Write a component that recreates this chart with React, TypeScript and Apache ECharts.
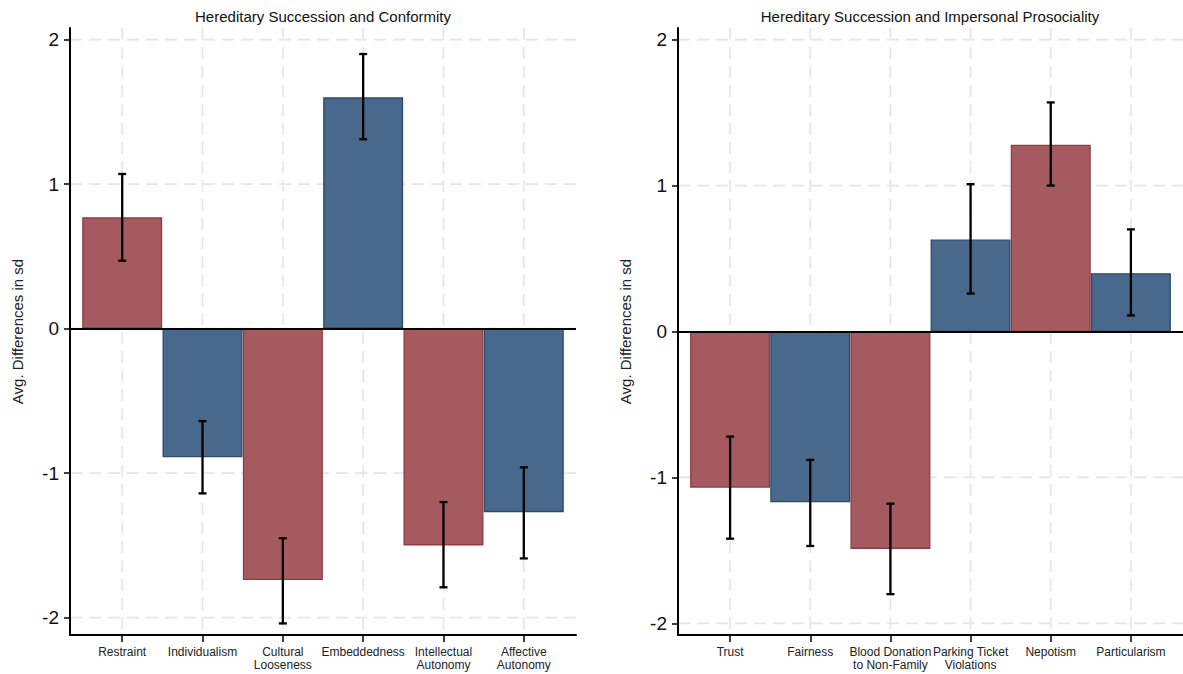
import React, { useEffect, useRef } from "react";
import * as echarts from "echarts";

const conformityTitle = "Hereditary Succession and Conformity";
const conformityCats = ["Restraint", "Individualism", "Cultural\nLooseness", "Embeddedness", "Intellectual\nAutonomy", "Affective\nAutonomy"];
const conformityMeans = [0.77, -0.89, -1.74, 1.6, -1.5, -1.27];
const conformityLower = [0.47, -1.14, -2.04, 1.31, -1.79, -1.59];
const conformityUpper = [1.07, -0.64, -1.45, 1.9, -1.2, -0.96];

const prosocTitle = "Hereditary Succession and Impersonal Prosociality";
const prosocCats = ["Trust", "Fairness", "Blood Donation\nto Non-Family", "Parking Ticket\nViolations", "Nepotism", "Particularism"];
const prosocMeans = [-1.07, -1.17, -1.49, 0.63, 1.28, 0.4];
const prosocLower = [-1.42, -1.47, -1.8, 0.26, 1.0, 0.11];
const prosocUpper = [-0.72, -0.88, -1.18, 1.01, 1.57, 0.7];

const yTicks = [-2, -1, 0, 1, 2];
const yAxisTitle = "Avg. Differences in sd";

const RED = "#a55a60";
const RED_B = "#8e3c46";
const BLUE = "#48698b";
const BLUE_B = "#2c4b6c";
const barFills = [RED, BLUE, RED, BLUE, RED, BLUE];
const barBorders = [RED_B, BLUE_B, RED_B, BLUE_B, RED_B, BLUE_B];

const FONT = "'Liberation Sans', Arial, sans-serif";
const GRID_COLOR = "#e6e6e6";

function buildPanel(g: number, cats: string[], means: number[], lower: number[], upper: number[], yMin: number, yMax: number) {
  const positions = cats.map((_, i) => i + 1);
  const xAxis = {
    type: "value",
    gridIndex: g,
    min: 0.35,
    max: 6.65,
    axisLine: { show: true, onZero: false, lineStyle: { color: "#000", width: 2 } },
    axisTick: { show: true, customValues: positions, length: 7, lineStyle: { color: "#000", width: 1.5 } },
    axisLabel: {
      customValues: positions,
      formatter: (v: number) => cats[Math.round(v) - 1] ?? "",
      fontSize: 12,
      color: "#222",
      margin: 10,
      lineHeight: 13,
      fontFamily: FONT,
    },
    splitLine: { show: false },
  };
  const yAxis = {
    type: "value",
    gridIndex: g,
    min: yMin,
    max: yMax,
    axisLine: { show: true, onZero: false, lineStyle: { color: "#000", width: 2 } },
    axisTick: { show: true, customValues: yTicks, length: 6, lineStyle: { color: "#000", width: 1.5 } },
    axisLabel: { customValues: yTicks, fontSize: 19, color: "#111", margin: 11, fontFamily: FONT },
    splitLine: { show: false },
    name: yAxisTitle,
    nameLocation: "middle",
    nameRotate: 90,
    nameGap: 45,
    nameTextStyle: { fontSize: 15, color: "#222", fontFamily: FONT },
  };
  const series = [
    {
      type: "custom",
      xAxisIndex: g,
      yAxisIndex: g,
      z: 0,
      silent: true,
      data: yTicks.map((v) => [v]),
      encode: { y: 0 },
      renderItem: (params: any, api: any) => {
        const cs = params.coordSys;
        const y = api.coord([1, api.value(0)])[1];
        return {
          type: "line",
          shape: { x1: cs.x, y1: y, x2: cs.x + cs.width, y2: y },
          style: { stroke: GRID_COLOR, lineWidth: 1.7, lineDash: [12, 7] },
        };
      },
    },
    {
      type: "custom",
      xAxisIndex: g,
      yAxisIndex: g,
      z: 0,
      silent: true,
      data: positions.map((p) => [p]),
      encode: { x: 0 },
      renderItem: (params: any, api: any) => {
        const cs = params.coordSys;
        const x = api.coord([api.value(0), 0])[0];
        return {
          type: "line",
          shape: { x1: x, y1: cs.y, x2: x, y2: cs.y + cs.height },
          style: { stroke: GRID_COLOR, lineWidth: 1.7, lineDash: [12, 7] },
        };
      },
    },
    {
      type: "bar",
      xAxisIndex: g,
      yAxisIndex: g,
      z: 2,
      barWidth: 80,
      data: means.map((v, i) => ({
        value: [i + 1, v],
        itemStyle: { color: barFills[i], borderColor: barBorders[i], borderWidth: 1.3 },
      })),
      markLine: {
        silent: true,
        symbol: "none",
        label: { show: false },
        lineStyle: { color: "#000", width: 2, type: "solid" },
        data: [{ yAxis: 0 }],
      },
    },
    {
      type: "custom",
      xAxisIndex: g,
      yAxisIndex: g,
      z: 5,
      silent: true,
      data: means.map((_, i) => [i + 1, lower[i], upper[i]]),
      encode: { x: 0, y: [1, 2] },
      renderItem: (params: any, api: any) => {
        const x = api.value(0);
        const lo = api.coord([x, api.value(1)]);
        const hi = api.coord([x, api.value(2)]);
        const cw = 4;
        const st = { stroke: "#000", lineWidth: 2.3 };
        return {
          type: "group",
          children: [
            { type: "line", shape: { x1: lo[0], y1: lo[1], x2: hi[0], y2: hi[1] }, style: st },
            { type: "line", shape: { x1: hi[0] - cw, y1: hi[1], x2: hi[0] + cw, y2: hi[1] }, style: st },
            { type: "line", shape: { x1: lo[0] - cw, y1: lo[1], x2: lo[0] + cw, y2: lo[1] }, style: st },
          ],
        };
      },
    },
  ];
  return { xAxis, yAxis, series };
}

export default function App() {
  const ref = useRef<HTMLDivElement>(null);
  useEffect(() => {
    document.body.style.margin = "0";
    if (!ref.current) return;
    const chart = echarts.init(ref.current, null, { renderer: "svg" });
    const p1 = buildPanel(0, conformityCats, conformityMeans, conformityLower, conformityUpper, -2.12, 2.08);
    const p2 = buildPanel(1, prosocCats, prosocMeans, prosocLower, prosocUpper, -2.08, 2.08);
    chart.setOption({
      animation: false,
      backgroundColor: "#fff",
      textStyle: { fontFamily: FONT },
      grid: [
        { left: 70, top: 28, width: 506, height: 607 },
        { left: 678, top: 28, width: 505, height: 607 },
      ],
      xAxis: [p1.xAxis, p2.xAxis],
      yAxis: [p1.yAxis, p2.yAxis],
      series: [...p1.series, ...p2.series],
      graphic: [
        {
          type: "text",
          x: 323,
          y: 16,
          style: { text: conformityTitle, fontSize: 15, fontFamily: FONT, fill: "#111", align: "center", verticalAlign: "middle" },
        },
        {
          type: "text",
          x: 930,
          y: 16,
          style: { text: prosocTitle, fontSize: 15, fontFamily: FONT, fill: "#111", align: "center", verticalAlign: "middle" },
        },
      ],
    });
    return () => chart.dispose();
  }, []);
  return <div ref={ref} style={{ width: 1183, height: 674 }} />;
}
